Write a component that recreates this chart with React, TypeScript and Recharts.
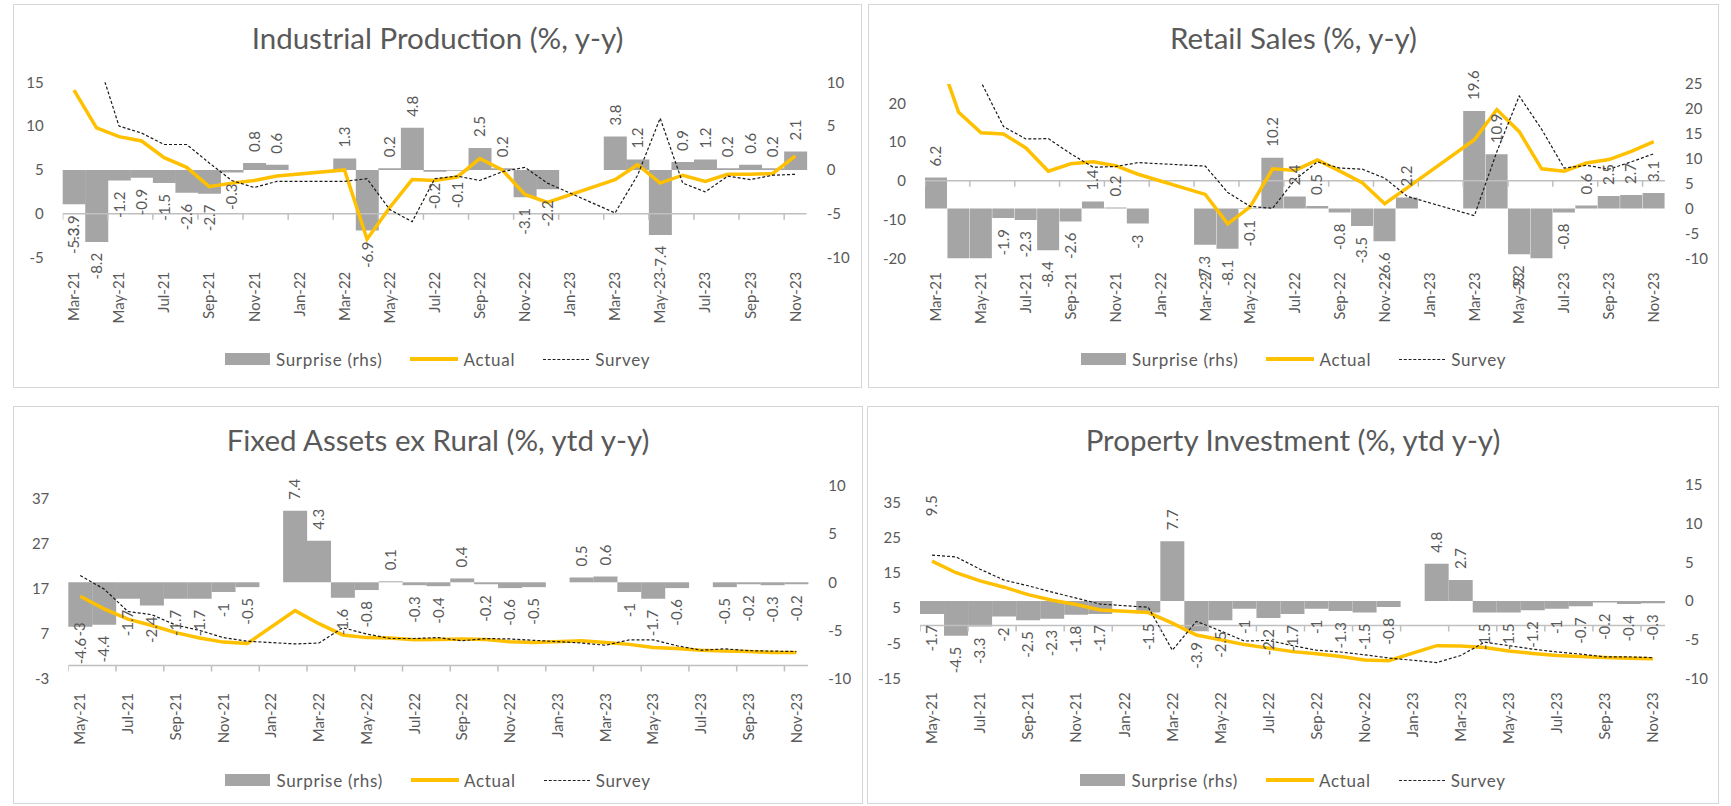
import React from 'react';
import { ComposedChart, Bar, Line, XAxis, YAxis, Scatter, LabelList } from 'recharts';

// ---------- categories ----------
const monthsFromMar21: string[] = [
  'Mar-21', 'Apr-21', 'May-21', 'Jun-21', 'Jul-21', 'Aug-21', 'Sep-21', 'Oct-21', 'Nov-21', 'Dec-21',
  'Jan-22', 'Feb-22', 'Mar-22', 'Apr-22', 'May-22', 'Jun-22', 'Jul-22', 'Aug-22', 'Sep-22', 'Oct-22', 'Nov-22', 'Dec-22',
  'Jan-23', 'Feb-23', 'Mar-23', 'Apr-23', 'May-23', 'Jun-23', 'Jul-23', 'Aug-23', 'Sep-23', 'Oct-23', 'Nov-23',
];
const monthsFromMay21: string[] = [
  'May-21', 'Jun-21', 'Jul-21', 'Aug-21', 'Sep-21', 'Oct-21', 'Nov-21', 'Dec-21',
  'Jan-22', 'Feb-22', 'Mar-22', 'Apr-22', 'May-22', 'Jun-22', 'Jul-22', 'Aug-22', 'Sep-22', 'Oct-22', 'Nov-22', 'Dec-22',
  'Jan-23', 'Feb-23', 'Mar-23', 'Apr-23', 'May-23', 'Jun-23', 'Jul-23', 'Aug-23', 'Sep-23', 'Oct-23', 'Nov-23',
];

// ---------- Industrial production ----------
const ipSurprise = [-3.9, -8.2, -1.2, -0.9, -1.5, -2.6, -2.7, -0.3, 0.8, 0.6, null, null, 1.3, -6.9, 0.2, 4.8, -0.2, -0.1, 2.5, 0.2, -3.1, -2.2, null, null, 3.8, 1.2, -7.4, 0.9, 1.2, 0.2, 0.6, 0.2, 2.1];
const ipActual = [14.1, 9.8, 8.8, 8.3, 6.4, 5.3, 3.1, 3.5, 3.8, 4.3, null, null, 5.0, -2.9, 0.7, 3.9, 3.8, 4.2, 6.3, 5.0, 2.2, 1.3, null, null, 3.9, 5.6, 3.5, 4.4, 3.7, 4.5, 4.5, 4.6, 6.6];
const ipSurvey = [18.0, 18.0, 10.0, 9.2, 7.9, 7.9, 5.8, 3.8, 3.0, 3.7, null, null, 3.7, 4.0, 0.5, -0.9, 4.0, 4.3, 3.8, 4.8, 5.3, 3.5, null, null, 0.1, 4.4, 10.9, 3.5, 2.5, 4.3, 3.9, 4.4, 4.5];
const ipStrayLabel = [-5.3];

// ---------- Retail sales ----------
const rsSurprise = [6.2, -12.3, -13.1, -1.9, -2.3, -8.4, -2.6, 1.4, 0.2, -3, null, null, -7.3, -8.1, -0.1, 10.2, 2.4, 0.5, -0.8, -3.5, -6.6, 2.2, null, null, 19.6, 10.9, -9.2, -10.2, -0.8, 0.6, 2.5, 2.7, 3.1];
const rsActual = [34.2, 17.7, 12.4, 12.1, 8.5, 2.5, 4.4, 4.9, 3.9, 1.7, null, null, -3.5, -11.1, -6.7, 3.1, 2.7, 5.4, 2.5, -0.5, -5.9, -1.8, null, null, 10.6, 18.4, 12.7, 3.1, 2.5, 4.6, 5.5, 7.6, 10.1];
const rsSurvey = [28.0, 30.0, 25.5, 14.0, 10.8, 10.9, 7.0, 3.5, 3.7, 4.7, null, null, 3.8, -3.0, -6.6, -7.1, 0.3, 4.9, 3.3, 3.0, 0.7, -4.0, null, null, -9.0, 7.5, 21.9, 13.3, 3.3, 4.0, 3.0, 4.9, 7.0];
const rsStrayLabel: (number | null)[] = [];

// ---------- Fixed assets ex rural ----------
const faSurprise = [-4.6, -4.4, -1.7, -2.4, -1.7, -1.7, -1, -0.5, null, 7.4, 4.3, -1.6, -0.8, 0.1, -0.3, -0.4, 0.4, -0.2, -0.6, -0.5, null, 0.5, 0.6, -1, -1.7, -0.6, 0, -0.5, -0.2, -0.3, -0.2];
const faActual = [15.4, 12.6, 10.3, 8.9, 7.3, 6.1, 5.2, 4.9, null, 12.2, 9.3, 6.8, 6.2, 6.1, 5.7, 5.8, 5.9, 5.8, 5.3, 5.1, null, 5.5, 5.1, 4.7, 4.0, 3.8, 3.4, 3.2, 3.1, 2.9, 2.9];
const faSurvey = [20.0, 17.0, 12.0, 11.3, 9.0, 7.8, 6.2, 5.4, null, 4.8, 5.0, 8.4, 7.0, 6.0, 6.0, 6.2, 5.5, 6.0, 5.9, 5.6, null, 5.0, 4.5, 5.7, 5.7, 4.4, 3.4, 3.7, 3.3, 3.2, 3.1];
const faStrayLabel = [-3];

// ---------- Property investment ----------
const piSurprise = [-1.7, -4.5, -3.3, -2, -2.5, -2.3, -1.8, -1.7, null, -1.5, 7.7, -3.9, -2.5, -1, -2.2, -1.7, -1, -1.3, -1.5, -0.8, null, 4.8, 2.7, -1.5, -1.5, -1.2, -1, -0.7, -0.2, -0.4, -0.3];
const piActual = [18.3, 15.0, 12.7, 10.9, 8.8, 7.2, 6.0, 4.4, null, 3.7, 0.7, -2.7, -4.0, -5.4, -6.4, -7.4, -8.0, -8.8, -9.8, -10.0, null, -5.7, -5.8, -6.2, -7.2, -7.9, -8.5, -8.8, -9.1, -9.3, -9.4];
const piSurvey = [20.0, 19.5, 16.0, 12.9, 11.3, 9.5, 7.8, 6.1, null, 5.2, -7.0, 1.2, -1.5, -4.4, -4.2, -5.7, -7.0, -7.5, -8.3, -9.2, null, -10.5, -8.5, -4.7, -5.7, -6.7, -7.5, -8.1, -8.9, -8.9, -9.1];
const piStrayLabel = [9.5];

// ---------- axis ticks ----------
const ipLeftTicks = [-5, 0, 5, 10, 15];
const ipRightTicks = [-10, -5, 0, 5, 10];
const rsLeftTicks = [-20, -10, 0, 10, 20];
const rsRightTicks = [-10, -5, 0, 5, 10, 15, 20, 25];
const faLeftTicks = [-3, 7, 17, 27, 37];
const faRightTicks = [-10, -5, 0, 5, 10];
const piLeftTicks = [-15, -5, 5, 15, 25, 35];
const piRightTicks = [-10, -5, 0, 5, 10, 15];

const FONT = 'Lato, "Open Sans", sans-serif';
const TXT = '#595959';
const BAR = '#a5a5a5';
const YEL = '#FFC000';
const GRID = '#bfbfbf';

type Num = number | null;
type Panel = {
  title: string;
  cats: string[];
  surprise: Num[];
  actual: Num[];
  survey: Num[];
  stray: Num[];
  left: [number, number];
  leftTicks: number[];
  right: [number, number];
  rightTicks: number[];
  box: { x: number; y: number; w: number; h: number };
  plot: { x0: number; x1: number; y0: number; y1: number };
  legendY: number;
};

const panels: Panel[] = [
  {
    title: 'Industrial Production (%, y-y)', cats: monthsFromMar21,
    surprise: ipSurprise, actual: ipActual, survey: ipSurvey, stray: ipStrayLabel,
    left: [-5, 15], leftTicks: ipLeftTicks, right: [-10, 10], rightTicks: ipRightTicks,
    box: { x: 13, y: 4, w: 849, h: 384 }, plot: { x0: 62.7, x1: 806.7, y0: 82.2, y1: 257.7 }, legendY: 359,
  },
  {
    title: 'Retail Sales (%, y-y)', cats: monthsFromMar21,
    surprise: rsSurprise, actual: rsActual, survey: rsSurvey, stray: rsStrayLabel,
    left: [-20, 25], leftTicks: rsLeftTicks, right: [-10, 25], rightTicks: rsRightTicks,
    box: { x: 868, y: 4, w: 851, h: 384 }, plot: { x0: 925, x1: 1665, y0: 84, y1: 258.3 }, legendY: 359,
  },
  {
    title: 'Fixed Assets ex Rural (%, ytd y-y)', cats: monthsFromMay21,
    surprise: faSurprise, actual: faActual, survey: faSurvey, stray: faStrayLabel,
    left: [-3, 40], leftTicks: faLeftTicks, right: [-10, 10], rightTicks: faRightTicks,
    box: { x: 13, y: 406, w: 850, h: 398 }, plot: { x0: 68.3, x1: 808.3, y0: 485.6, y1: 679 }, legendY: 780,
  },
  {
    title: 'Property Investment (%, ytd y-y)', cats: monthsFromMay21,
    surprise: piSurprise, actual: piActual, survey: piSurvey, stray: piStrayLabel,
    left: [-15, 40], leftTicks: piLeftTicks, right: [-10, 15], rightTicks: piRightTicks,
    box: { x: 867, y: 406, w: 852, h: 398 }, plot: { x0: 920, x1: 1665, y0: 484.7, y1: 678.4 }, legendY: 780,
  },
];

const YAW = 40;
const XAH = 80;

const rotatedLabel = (cx: number, ay: number, pos: boolean, value: number) => (
  <text
    x={cx}
    y={ay}
    transform={`rotate(-90, ${cx}, ${ay})`}
    textAnchor={pos ? 'start' : 'end'}
    dy="0.35em"
    fill={TXT}
    fontSize={15}
    fontFamily={FONT}
  >
    {String(value)}
  </text>
);

const makeBarLabel = (min: number, max: number) => (props: any) => {
  const { x, y, width, height, value } = props;
  if (value === null || value === undefined || value < min || value > max) return null;
  const cx = Number(x) + Number(width) / 2;
  const top = Math.min(Number(y), Number(y) + Number(height));
  const bottom = Math.max(Number(y), Number(y) + Number(height));
  const pos = value >= 0;
  return rotatedLabel(cx, pos ? top - 11 : bottom + 11, pos, value);
};

const StrayShape = (props: any) => {
  const { cx, cy, payload } = props;
  const val = payload ? payload.h : null;
  if (val === null || val === undefined || cx == null || cy == null || isNaN(cx) || isNaN(cy)) return <g />;
  const pos = val >= 0;
  return rotatedLabel(cx, pos ? cy - 11 : cy + 11, pos, val);
};

// small tick mark hanging below the zero line, at category boundaries
const TickMarkShape = (props: any) => {
  const { cx, cy } = props;
  if (cx == null || cy == null || isNaN(cx) || isNaN(cy)) return <g />;
  return <line x1={cx} x2={cx} y1={cy} y2={cy + 6} stroke={GRID} strokeWidth={1.5} />;
};

const CatTick = (props: any) => {
  const { x, y, payload } = props;
  return (
    <text
      x={x}
      y={y}
      transform={`rotate(-90, ${x}, ${y})`}
      textAnchor="end"
      dy="0.35em"
      fill={TXT}
      fontSize={15}
      fontFamily={FONT}
    >
      {payload.value}
    </text>
  );
};

function LegendRow({ cx, cy }: { cx: number; cy: number }) {
  return (
    <div
      style={{
        position: 'absolute', left: cx - 300, width: 600, top: cy - 11, height: 22,
        display: 'flex', justifyContent: 'center', alignItems: 'center',
        fontFamily: FONT, fontSize: 17, letterSpacing: 0.7, color: TXT, whiteSpace: 'nowrap',
      }}
    >
      <span style={{ display: 'inline-block', width: 45, height: 12, background: BAR, marginRight: 6 }} />
      <span>Surprise (rhs)</span>
      <span style={{ display: 'inline-block', width: 48, height: 0, borderTop: `4px solid ${YEL}`, marginLeft: 28, marginRight: 5 }} />
      <span>Actual</span>
      <span style={{ display: 'inline-block', width: 46, height: 0, borderTop: '1.5px dashed #222', marginLeft: 28, marginRight: 6 }} />
      <span>Survey</span>
    </div>
  );
}

function PanelChart({ p }: { p: Panel }) {
  const n = p.cats.length;
  const rows = p.cats.map((m, i) => ({
    m,
    i,
    s: p.surprise[i] ?? null,
    a: p.actual[i] ?? null,
    v: p.survey[i] ?? null,
    h: p.stray[i] ?? null,
  }));
  const zeroLine = [{ i: 0, z: 0 }, { i: n, z: 0 }];
  const tickMarks: { i: number; z: number }[] = [];
  for (let k = 0; k < n; k += 2) tickMarks.push({ i: k, z: 0 });

  const margin = {
    left: p.plot.x0 - p.box.x - YAW,
    right: p.box.x + p.box.w - p.plot.x1 - YAW,
    top: p.plot.y0 - p.box.y,
    bottom: p.box.y + p.box.h - p.plot.y1 - XAH,
  };

  return (
    <div style={{ position: 'absolute', left: p.box.x, top: p.box.y, width: p.box.w, height: p.box.h }}>
      <ComposedChart
        width={p.box.w}
        height={p.box.h}
        data={rows}
        margin={margin}
        barCategoryGap={0}
        barGap={0}
      >
        <XAxis
          dataKey="m"
          interval={1}
          axisLine={false}
          tickLine={false}
          tickSize={0}
          tickMargin={14}
          height={XAH}
          tick={<CatTick />}
        />
        <XAxis xAxisId="n" type="number" dataKey="i" domain={[0, n]} allowDataOverflow hide />
        <YAxis
          yAxisId="l"
          orientation="left"
          domain={p.left}
          ticks={p.leftTicks}
          interval={0}
          allowDataOverflow
          axisLine={false}
          tickLine={false}
          tickSize={0}
          tickMargin={19}
          width={YAW}
          tick={{ fill: TXT, fontSize: 15, fontFamily: FONT }}
        />
        <YAxis
          yAxisId="r"
          orientation="right"
          domain={p.right}
          ticks={p.rightTicks}
          interval={0}
          allowDataOverflow
          axisLine={false}
          tickLine={false}
          tickSize={0}
          tickMargin={20}
          width={YAW}
          tick={{ fill: TXT, fontSize: 15, fontFamily: FONT }}
        />
        <Bar yAxisId="r" dataKey="s" fill={BAR} isAnimationActive={false}>
          <LabelList dataKey="s" content={makeBarLabel(p.right[0], p.right[1])} />
        </Bar>
        <Line
          xAxisId="n"
          yAxisId="l"
          data={zeroLine}
          dataKey="z"
          type="linear"
          stroke={GRID}
          strokeWidth={1.5}
          dot={false}
          activeDot={false}
          isAnimationActive={false}
        />
        <Scatter xAxisId="n" yAxisId="l" data={tickMarks} dataKey="z" shape={<TickMarkShape />} isAnimationActive={false} />
        <Line yAxisId="l" dataKey="a" type="linear" stroke={YEL} strokeWidth={3.5} dot={false} activeDot={false} connectNulls isAnimationActive={false} />
        <Line yAxisId="l" dataKey="v" type="linear" stroke="#1a1a1a" strokeWidth={1.2} strokeDasharray="3 2" dot={false} activeDot={false} connectNulls isAnimationActive={false} />
        <Scatter yAxisId="r" dataKey="h" shape={<StrayShape />} isAnimationActive={false} />
      </ComposedChart>
      <div
        style={{
          position: 'absolute', left: 0, width: p.box.w, top: 18, lineHeight: '32px',
          textAlign: 'center', fontFamily: FONT, fontSize: 29.5, color: TXT, whiteSpace: 'nowrap',
        }}
      >
        {p.title}
      </div>
    </div>
  );
}

export default function App() {
  return (
    <div style={{ position: 'absolute', left: 0, top: 0, width: 1731, height: 806, background: '#fff', overflow: 'hidden' }}>
      {panels.map((p) => (
        <div
          key={p.title + '-frame'}
          style={{
            position: 'absolute', left: p.box.x, top: p.box.y, width: p.box.w - 2, height: p.box.h - 2,
            border: '1px solid #d6d6d6',
          }}
        />
      ))}
      {panels.map((p) => (
        <PanelChart key={p.title} p={p} />
      ))}
      {panels.map((p) => (
        <LegendRow key={p.title + '-legend'} cx={p.box.x + p.box.w / 2} cy={p.legendY} />
      ))}
    </div>
  );
}
